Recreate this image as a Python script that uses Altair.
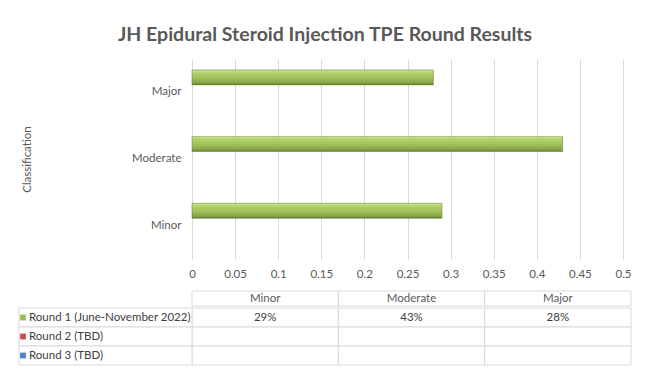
import altair as alt
import pandas as pd

# ---- data ----
categories = ["Minor", "Moderate", "Major"]
rounds = ["Round 1 (June-November 2022)", "Round 2 (TBD)", "Round 3 (TBD)"]
round1_values = [0.29, 0.43, 0.28]
round1_labels = ["29%", "43%", "28%"]
round_colors = ["#9BBB59", "#C0504D", "#4F81BD"]
x_ticks = [0, 0.05, 0.1, 0.15, 0.2, 0.25, 0.3, 0.35, 0.4, 0.45, 0.5]

title_text = "JH Epidural Steroid Injection TPE Round Results"

text_color = "#595959"
grid_color = "#d9d9d9"
font = "Lato"

bars_df = pd.DataFrame({
    "Classification": categories,
    "Round": [rounds[0]] * len(categories),
    "Value": round1_values,
})

green_grad = alt.Gradient(
    gradient="linear", x1=0, y1=0, x2=0, y2=1,
    stops=[
        alt.GradientStop(color="#d5e6a6", offset=0),
        alt.GradientStop(color="#b3d268", offset=0.18),
        alt.GradientStop(color="#9fc05a", offset=0.55),
        alt.GradientStop(color="#86a64a", offset=0.85),
        alt.GradientStop(color="#5f7b2c", offset=1),
    ],
)

bars = alt.Chart(bars_df).mark_bar(
    color=green_grad, stroke="#6f8c34", strokeWidth=0.6
).encode(
    x=alt.X(
        "Value:Q",
        scale=alt.Scale(domain=[0, 0.5], nice=False, zero=True),
        axis=alt.Axis(
            values=x_ticks, format="~g", title=None, grid=True, ticks=False,
            domain=False, labelPadding=9, labelFlush=False,
        ),
    ),
    y=alt.Y(
        "Classification:N",
        sort=categories[::-1],
        scale=alt.Scale(domain=categories[::-1], paddingInner=0.33, paddingOuter=0.165),
        axis=alt.Axis(
            title="Classification", ticks=False, domain=False, grid=False,
            labelPadding=11, titleAngle=-90, titleX=-165, titleY=100,
            titleAlign="center", titleBaseline="middle",
            titleFontWeight="normal", titleFontSize=11.5,
        ),
    ),
    yOffset=alt.YOffset(
        "Round:N",
        scale=alt.Scale(domain=rounds, paddingInner=0, paddingOuter=0),
    ),
).properties(width=431, height=200)

# ---- data table ----
header_df = pd.DataFrame({"Col": categories})
cell_rows = []
for r in rounds:
    for i, c in enumerate(categories):
        cell_rows.append({
            "Row": r,
            "Col": c,
            "Text": round1_labels[i] if r == rounds[0] else "",
        })
cells_df = pd.DataFrame(cell_rows)
rows_df = pd.DataFrame({"Row": rounds})

tx = alt.X(
    "Col:N",
    scale=alt.Scale(domain=categories, paddingInner=0, paddingOuter=0),
    axis=None,
)
ty = alt.Y(
    "Row:N",
    scale=alt.Scale(domain=rounds, paddingInner=0, paddingOuter=0),
    axis=None,
)

header_rects = alt.Chart(header_df).mark_rect(
    fill="white", stroke=grid_color, strokeWidth=1
).encode(x=tx)
header_text = alt.Chart(header_df).mark_text(
    font=font, fontSize=11.5, color=text_color, baseline="middle"
).encode(x=tx, text="Col:N")
header = alt.layer(header_rects, header_text).properties(width=439, height=15)

cell_rects = alt.Chart(cells_df).mark_rect(
    fill="white", stroke=grid_color, strokeWidth=1
).encode(x=tx, y=ty)
cell_text = alt.Chart(cells_df).mark_text(
    font=font, fontSize=11.5, color="#404040", baseline="middle"
).encode(x=tx, y=ty, text="Text:N")
left_rects = alt.Chart(rows_df).mark_rect(
    fill="white", stroke=grid_color, strokeWidth=1
).encode(x=alt.value(-173), x2=alt.value(0), y=ty)
left_text = alt.Chart(rows_df).mark_text(
    font=font, fontSize=11.5, color="#404040", align="left", baseline="middle"
).encode(x=alt.value(-163), y=ty, text="Row:N")
squares = alt.Chart(rows_df).mark_square(
    size=40, opacity=1, stroke="#ffffff", strokeWidth=0.5
).encode(
    x=alt.value(-169),
    y=ty,
    color=alt.Color("Row:N", scale=alt.Scale(domain=rounds, range=round_colors), legend=None),
)

body = alt.layer(
    cell_rects, cell_text, left_rects, left_text, squares
).properties(width=439, height=57)

table = alt.vconcat(header, body, spacing=0)

chart = alt.vconcat(bars, table, spacing=10).properties(
    title=alt.Title(
        title_text, fontSize=19.5, fontWeight="bold", color=text_color,
        font=font, anchor="middle", offset=14,
    ),
    padding={"left": 10, "top": 16, "right": 10, "bottom": 5},
    background="white",
).configure_view(stroke=None).configure_axis(
    labelFont=font, labelFontSize=11.5, labelColor=text_color,
    titleFont=font, titleColor=text_color, gridColor=grid_color, gridWidth=1,
)

chart.save("out.html", embed_options={"renderer": "svg", "actions": False})
